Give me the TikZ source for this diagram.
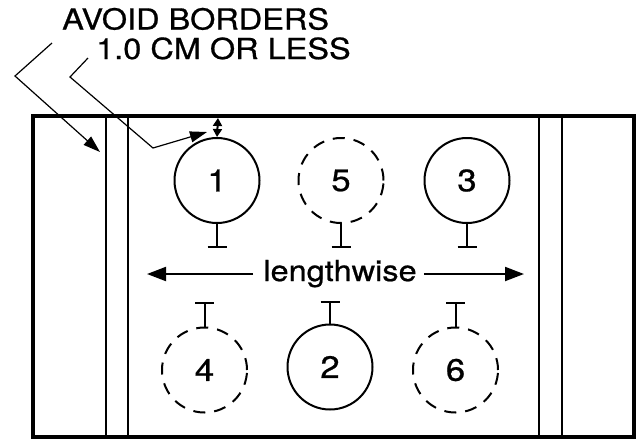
\documentclass[tikz,border=0pt]{standalone}
\usepackage{fontspec}
\setmainfont[FakeBold=0.7]{TeX Gyre Heros}
\usetikzlibrary{arrows.meta}
\tikzset{
  tree/.style={circle, draw, line width=2pt, minimum size=85pt, inner sep=0pt, font=\fontsize{31}{34}\selectfont},
  ghost/.style={tree, dash pattern=on 12pt off 9pt},
  stem/.style={line width=2pt},
  border/.style={line width=4.4pt},
  strip/.style={line width=2pt},
  pointer/.style={line width=1.2pt, -{Triangle[length=17pt,width=11pt]}},
  bigarrow/.style={line width=2pt, -{Triangle[length=19pt,width=14pt]}},
  label/.style={anchor=base west, inner sep=0pt, font=\fontsize{29}{32}\selectfont},
}
\newcommand{\wide}[1]{\scalebox{1.12}[1]{#1}}
\begin{document}
\begin{tikzpicture}[x=1pt,y=-1pt]
\useasboundingbox (0,0) rectangle (637,440);
% frame
\draw[border] (33,116) rectangle (634,437);
\draw[strip] (106,116) -- (106,437);
\draw[strip] (128,116) -- (128,437);
\draw[strip] (539,116) -- (539,437);
\draw[strip] (562,116) -- (562,437);
% trees
\node[tree]  (c1) at (217,180.5) {\wide{1}};
\node[ghost] (c5) at (341,180.5) {\wide{5}};
\node[tree]  (c3) at (467,180.5) {\wide{3}};
\node[ghost] (c4) at (204.5,370) {\wide{4}};
\node[tree]  (c2) at (330,367) {\wide{2}};
\node[ghost] (c6) at (455.5,370) {\wide{6}};
% stems
\foreach \c in {c1,c5,c3}{
  \draw[stem] (\c.south) -- ++(0,23) coordinate (\c b);
  \draw[stem] ([xshift=-9.5pt]\c b) -- ([xshift=9.5pt]\c b);
}
\foreach \c in {c4,c6}{
  \draw[stem] (\c.north) -- ++(0,-24) coordinate (\c b);
  \draw[stem] ([xshift=-9.5pt]\c b) -- ([xshift=9.5pt]\c b);
}
\draw[stem] (c2.north) -- ++(0,-22) coordinate (c2b);
\draw[stem] ([xshift=-9.5pt]c2b) -- ([xshift=9.5pt]c2b);
% lengthwise
\node[inner sep=0pt, anchor=base, font=\fontsize{29}{32}\selectfont] (lw) at (340,281) {\wide{lengthwise}};
\coordinate (la) at (147,274);
\coordinate (ra) at (524,274);
\draw[bigarrow] (lw.west |- la) ++(-10,0) -- (la);
\draw[bigarrow] (lw.east |- ra) ++(7,0) -- (ra);
% labels
\node[label] (t1) at (62,29.5) {\wide{AVOID BORDERS}};
\node[label] (t2) at (96,59) {\wide{1.0 CM OR LESS}};
% pointers
\coordinate (p1s) at (52,43);
\coordinate (p1m) at (15,76);
\coordinate (p1e) at (100,152);
\draw[pointer] (p1s) -- (p1m) -- (p1e);
\coordinate (p2s) at (88,58);
\coordinate (p2m) at (70,77);
\coordinate (p2k) at (153,148);
\coordinate (p2e) at (207,132);
\draw[pointer] (p2s) -- (p2m) -- (p2k) -- (p2e);
% gap arrow
\coordinate (gtop) at (218,118);
\draw[line width=2pt, {Triangle[length=8pt,width=9pt]}-{Triangle[length=8pt,width=9pt]}] (gtop) -- (c1.north);
\end{tikzpicture}
\end{document}
